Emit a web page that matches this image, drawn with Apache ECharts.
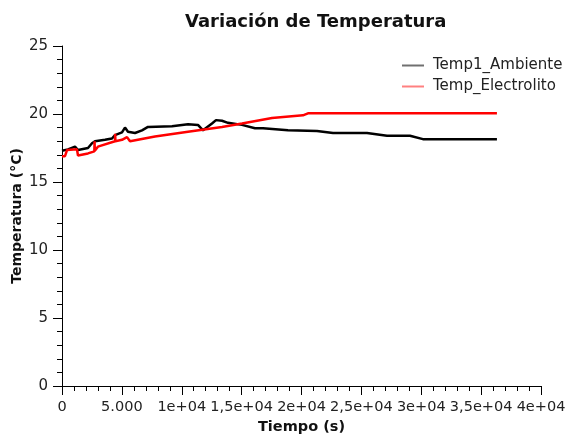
<!DOCTYPE html>
<html>
<head>
<meta charset="utf-8">
<script src="https://cdn.jsdelivr.net/npm/echarts@6/dist/echarts.min.js"></script>
<style>
  html, body { margin: 0; padding: 0; background: #fff; }
  #chart { width: 566px; height: 434px; }
</style>
</head>
<body>
<div id="chart"></div>
<script>
// datos: [tiempo (s), temperatura (°C)]
const ambTiempo = [0, 500, 1085, 1335, 2170, 2505, 2755, 3590, 4175, 4425, 5010, 5260, 5510, 6095, 6680, 7180, 9185, 10520, 11355, 11775, 12525, 12860, 13360, 13860, 15030, 16115, 16785, 18870, 21290, 22630, 25470, 27140, 29060, 30140, 36320];
const ambTemp   = [17.3, 17.4, 17.6, 17.35, 17.5, 17.85, 18.0, 18.1, 18.2, 18.45, 18.65, 19.0, 18.7, 18.6, 18.8, 19.05, 19.1, 19.25, 19.2, 18.8, 19.3, 19.55, 19.5, 19.35, 19.2, 18.95, 18.95, 18.8, 18.75, 18.6, 18.6, 18.4, 18.4, 18.15, 18.15];

const elecTiempo = [0, 250, 420, 1250, 1335, 2170, 2505, 2700, 2720, 2740, 3000, 4425, 4440, 4460, 5010, 5430, 5680, 7765, 10520, 13360, 15030, 17535, 20120, 20540, 28220, 36320];
const elecTemp   = [16.9, 16.9, 17.35, 17.4, 16.95, 17.1, 17.2, 17.25, 18.0, 17.3, 17.6, 18.0, 18.55, 18.0, 18.1, 18.3, 18.0, 18.35, 18.7, 19.05, 19.3, 19.7, 19.9, 20.05, 20.05, 20.05];

const zip = (xs, ys) => xs.map((x, i) => [x, ys[i]]);

const fmtX = v => {
  if (v === 0) return '0';
  if (v === 5000) return '5.000';
  const m = v / 10000;
  return String(m).replace('.', ',') + 'e+04';
};

const txt = '#222';
const fuente = 'DejaVu Sans';

const chart = echarts.init(document.getElementById('chart'));
chart.setOption({
  animation: false,
  textStyle: { fontFamily: fuente, color: txt },
  title: {
    text: 'Variación de Temperatura',
    left: 180, top: 8,
    textStyle: { fontFamily: fuente, fontSize: 18, fontWeight: 'bold', color: '#111' }
  },
  legend: {
    orient: 'vertical',
    left: 397, top: 53,
    icon: 'rect',
    itemWidth: 22, itemHeight: 2, itemGap: 6,
    textStyle: { fontFamily: fuente, fontSize: 15, color: txt, padding: [0, 0, 0, 4] },
    data: [
      { name: 'Temp1_Ambiente', itemStyle: { color: '#707070' } },
      { name: 'Temp_Electrolito', itemStyle: { color: '#ff8080' } }
    ]
  },
  grid: { left: 62, right: 25, top: 46, bottom: 48, outerBoundsMode: 'none', containLabel: false },
  xAxis: {
    type: 'value',
    min: 0, max: 40000, interval: 5000,
    name: 'Tiempo (s)',
    nameLocation: 'middle', nameGap: 33,
    nameTextStyle: { fontFamily: fuente, fontSize: 14.5, fontWeight: 'bold', color: '#111' },
    axisLine: { show: true, onZero: false, lineStyle: { color: '#000', width: 1 } },
    axisTick: { show: true, length: 9, lineStyle: { color: '#000' } },
    minorTick: { show: true, splitNumber: 5, length: 5, lineStyle: { color: '#000' } },
    axisLabel: { formatter: fmtX, fontSize: 14.5, color: txt, margin: 14, showMaxLabel: true, hideOverlap: false },
    splitLine: { show: false }
  },
  yAxis: {
    type: 'value',
    min: 0, max: 25, interval: 5,
    name: 'Temperatura (°C)',
    nameLocation: 'middle', nameGap: 38, nameMoveOverlap: false,
    nameTextStyle: { fontFamily: fuente, fontSize: 14, fontWeight: 'bold', color: '#111' },
    axisLine: { show: true, lineStyle: { color: '#000', width: 1 } },
    axisTick: { show: true, length: 9, lineStyle: { color: '#000' } },
    minorTick: { show: true, splitNumber: 5, length: 5, lineStyle: { color: '#000' } },
    axisLabel: { fontSize: 15, color: txt, margin: 14 },
    splitLine: { show: false }
  },
  series: [
    {
      name: 'Temp1_Ambiente',
      type: 'line',
      data: zip(ambTiempo, ambTemp),
      showSymbol: false, symbol: 'none',
      itemStyle: { color: '#000' },
      lineStyle: { color: '#000', width: 2.5 }
    },
    {
      name: 'Temp_Electrolito',
      type: 'line',
      data: zip(elecTiempo, elecTemp),
      showSymbol: false, symbol: 'none',
      itemStyle: { color: '#ff0000' },
      lineStyle: { color: '#ff0000', width: 2.5 }
    }
  ]
});
</script>
</body>
</html>
